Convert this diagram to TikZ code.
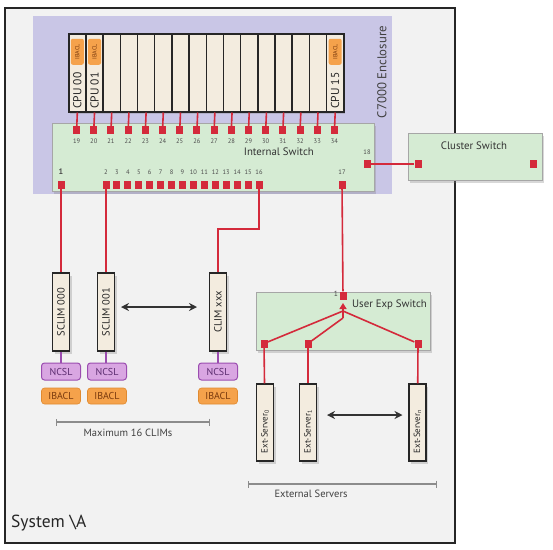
\documentclass[tikz,border=0pt]{standalone}
\usepackage{fontspec}
\setmainfont{PT Sans}
\usetikzlibrary{shadows,arrows.meta}

\definecolor{sysgray}{HTML}{F2F2F2}
\definecolor{encl}{HTML}{C9C6E6}
\definecolor{bladefill}{HTML}{F3ECDF}
\definecolor{swgreen}{HTML}{D5EBD3}
\definecolor{portred}{HTML}{D42A3B}
\definecolor{ncslfill}{HTML}{D9A6E2}
\definecolor{ncsldraw}{HTML}{9B4DB0}
\definecolor{ncsltext}{HTML}{5B2C6F}
\definecolor{ibaclfill}{HTML}{F5A24B}
\definecolor{ibacldraw}{HTML}{E08A30}
\definecolor{ibacltext}{HTML}{7A3A0E}

\begin{document}
\begin{tikzpicture}[x=1pt, y=-1pt]
\tikzstyle{sysframe} = [draw=black!85, line width=2pt, fill=sysgray]
\tikzstyle{boxshadow} = [drop shadow={shadow xshift=2pt, shadow yshift=-2.5pt, opacity=0.3}]
\tikzstyle{blade} = [rectangle, draw=black!85, line width=1.5pt, fill=bladefill, inner sep=0pt, minimum width=17.19pt, minimum height=78pt, anchor=north west]
\tikzstyle{switchbox} = [rectangle, draw=black!35, line width=0.6pt, fill=swgreen, inner sep=0pt, boxshadow]
\tikzstyle{port} = [rectangle, fill=portred, inner sep=0pt, minimum width=7pt, minimum height=8pt]
\tikzstyle{portnum} = [font=\fontsize{6.5}{7}\selectfont, text=black!70, inner sep=0pt]
\tikzstyle{redlink} = [draw=portred, line width=1.6pt]
\tikzstyle{clim} = [rectangle, draw=black!85, line width=1.5pt, fill=bladefill, inner sep=0pt, minimum width=17pt, minimum height=78pt, boxshadow]
\tikzstyle{vtext} = [rotate=90, font=\fontsize{10.5}{11}\selectfont, inner sep=0pt, text=black!85]
\tikzstyle{ncsl} = [rectangle, rounded corners=3pt, draw=ncsldraw, line width=1pt, fill=ncslfill, text=ncsltext, minimum width=39pt, minimum height=17pt, inner sep=0pt, font=\fontsize{10}{10}\selectfont]
\tikzstyle{ibacl} = [rectangle, rounded corners=3pt, draw=ibacldraw, line width=0.6pt, fill=ibaclfill, text=ibacltext, minimum width=39pt, minimum height=16pt, inner sep=0pt, font=\fontsize{10}{10}\selectfont]
\tikzstyle{cputag} = [rectangle, rounded corners=2pt, fill=ibaclfill, text=ibacltext, minimum width=26pt, minimum height=13pt, inner sep=0pt, rotate=90, font=\fontsize{6}{6}\selectfont]
\tikzstyle{dblarrow} = [draw=black!80, line width=1.4pt, {Stealth[length=8pt,width=8pt]}-{Stealth[length=8pt,width=8pt]}]
\tikzstyle{dimline} = [draw=black!45, line width=1.3pt, {Bar[width=7pt]}-{Bar[width=7pt]}]
\tikzstyle{swlabel} = [font=\fontsize{10.8}{12}\selectfont, text=black!80, inner sep=0pt]
\tikzstyle{caption} = [font=\fontsize{10.5}{12}\selectfont, text=black!75, inner sep=0pt]

\useasboundingbox[fill=white] (0,0) rectangle (553,549);

% system and enclosure
\draw[sysframe] (5,8) rectangle (455,543);
\node[anchor=west, inner sep=0pt, font=\fontsize{17.5}{19}\selectfont, text=black!85] (sysname) at (11,523) {System \textbackslash A};
\fill[encl] (33,16) rectangle (392,194);
\node[rotate=90, font=\fontsize{12.8}{14}\selectfont, text=black!75, inner sep=0pt] (encname) at (382,72) {C7000 Enclosure};

% internal switch
\node[switchbox, minimum width=322pt, minimum height=68pt] (isw) at (213,157) {};
\node[swlabel, anchor=east] (iswname) at (314,152) {Internal Switch};

% CPU blades and their ports
\node[rectangle, fill=bladefill, boxshadow, inner sep=0pt, minimum width=275pt, minimum height=78pt, anchor=north west] (rack) at (68,33) {};
\foreach \n [count=\i from 0] in {19,...,34} {
  \node[blade] (b\i) at ({68+17.19*\i},33) {};
  \node[port] (p\n) at ({76.6+17.19*\i},130) {};
  \node[portnum] at ({76.6+17.19*\i},141) {\n};
  \path[redlink] (b\i.south) -- (p\n);
}
\node[cputag] at ([yshift=21pt]b0.center) {IBACL};
\node[cputag] at ([yshift=21pt]b1.center) {IBACL};
\node[cputag] at ([yshift=21pt]b15.center) {IBACL};
\node[vtext, font=\fontsize{11.5}{12}\selectfont] at ([yshift=-18pt]b0.center) {CPU 00};
\node[vtext, font=\fontsize{11.5}{12}\selectfont] at ([yshift=-18pt]b1.center) {CPU 01};
\node[vtext, font=\fontsize{11.5}{12}\selectfont] at ([yshift=-18pt]b15.center) {CPU 15};

% lower switch ports
\node[port] (p1) at (61,185) {};
\node[portnum, font=\fontsize{8}{8}\selectfont\bfseries] at (61,172) {1};
\foreach \n [count=\i from 0] in {2,...,16} {
  \node[port] (p\n) at ({106+10.93*\i},185) {};
  \node[portnum] at ({106+10.93*\i},172) {\n};
}
\node[port] (p17) at (342,185) {};
\node[portnum] at (342,172) {17};
\node[port] (p18) at (367,164) {};
\node[portnum] at (367,152) {18};

% cluster switch
\node[switchbox, minimum width=134pt, minimum height=47pt] (clus) at (475,156.5) {};
\node[swlabel] (clusname) at (474,146) {Cluster Switch};
\node[port] (c1) at (418,164) {};
\node[port] (c2) at (533,164) {};
\path[redlink] (p18) -- (c1);

% CLIMs
\node[clim] (sclim0) at (61,312) {};
\node[clim] (sclim1) at (106,312) {};
\node[clim] (climx) at (218,312) {};
\node[vtext] at (sclim0) {SCLIM 000};
\node[vtext] at (sclim1) {SCLIM 001};
\node[vtext] at (climx) {CLIM xxx};
\path[redlink] (p1) -- (sclim0);
\path[redlink] (p2) -- (sclim1);
\path[redlink] (p16) -- ++(0,44) -| (climx);
\path[dblarrow, shorten <=15pt, shorten >=21pt] ([yshift=5pt]sclim1.center) -- ([yshift=5pt]climx.center);

\node[ncsl] (ncsl0) at (61,371.5) {NCSL};
\node[ncsl] (ncsl1) at (107,371.5) {NCSL};
\node[ncsl] (ncslx) at (218,371.5) {NCSL};
\draw[ncsldraw, line width=1.2pt] (sclim0) -- (ncsl0);
\draw[ncsldraw, line width=1.2pt] (sclim1) -- (sclim1 |- ncsl1.north);
\draw[ncsldraw, line width=1.2pt] (climx) -- (ncslx);
\node[ibacl] (ibacl0) at (61,396) {IBACL};
\node[ibacl] (ibacl1) at (107,396) {IBACL};
\node[ibacl] (ibaclx) at (218,396) {IBACL};

\coordinate (maxl) at (56,422);
\coordinate (maxr) at (210,422);
\path[dimline] (maxl) -- (maxr);
\node[caption] (maxname) at (128,433) {Maximum 16 CLIMs};

% user exp switch and external servers
\node[switchbox, minimum width=174pt, minimum height=58pt] (uexp) at (343,321) {};
\node[swlabel, anchor=west] (uexpname) at (352,305) {User Exp Switch};
\node[port] (u1) at (343,295.5) {};
\node[portnum, font=\fontsize{7.5}{8}\selectfont] at (336,294) {1};
\node[port] (u2) at (264,343.5) {};
\node[port] (u3) at (308,343.5) {};
\node[port] (u4) at (418,343.5) {};
\path[redlink] (p17) -- (u1);
\coordinate (ja) at (343,311);
\coordinate (jb) at (343,318);
\coordinate (jtip) at (343,303);
\path[redlink, -{Triangle[length=6pt,width=7pt]}] (jb) -- (jtip);
\path[redlink] (ja) -- (u2);
\path[redlink] (jb) -- (u3);
\path[redlink] (ja) -- (u4);

\node[clim, minimum height=77pt] (srv0) at (265,422.5) {};
\node[clim, minimum height=77pt] (srv1) at (308,422.5) {};
\node[clim, minimum height=77pt] (srvn) at (417.5,422.5) {};
\node[vtext, font=\fontsize{9}{10}\selectfont] at ([yshift=-9pt]srv0.center) {Ext-Server\textsubscript{0}};
\node[vtext, font=\fontsize{9}{10}\selectfont] at ([yshift=-9pt]srv1.center) {Ext-Server\textsubscript{1}};
\node[vtext, font=\fontsize{9}{10}\selectfont] at ([yshift=-9pt]srvn.center) {Ext-Server\textsubscript{n}};
\path[redlink] (u2) -- (srv0);
\path[redlink] (u3) -- (srv1);
\path[redlink] (u4) -- (srvn);
\path[dblarrow, shorten <=19pt, shorten >=15pt] ([yshift=7.5pt]srv1.center) -- ([yshift=7.5pt]srvn.center);

\coordinate (extl) at (248,484);
\coordinate (extr) at (437,484);
\path[dimline] (extl) -- (extr);
\node[caption] (extname) at (311,494) {External Servers};
\end{tikzpicture}
\end{document}
